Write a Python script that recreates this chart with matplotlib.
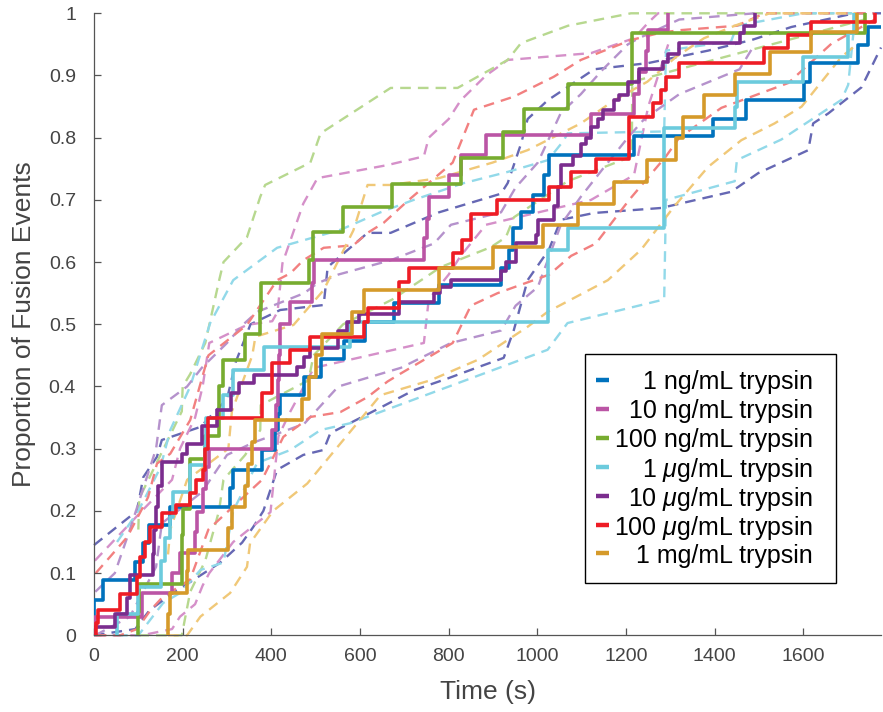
import matplotlib
matplotlib.use('Agg')
import matplotlib.pyplot as plt
from matplotlib.lines import Line2D
from matplotlib.patches import Rectangle

plt.rcParams['font.family'] = ['Liberation Sans', 'DejaVu Sans']
plt.rcParams['mathtext.fontset'] = 'custom'
plt.rcParams['mathtext.it'] = 'Liberation Sans:italic'
plt.rcParams['mathtext.rm'] = 'Liberation Sans'

labels = ['1 ng/mL trypsin', '10 ng/mL trypsin', '100 ng/mL trypsin',
          r'1 $\mu$g/mL trypsin', r'10 $\mu$g/mL trypsin',
          r'100 $\mu$g/mL trypsin', '1 mg/mL trypsin']
colors = ['#0072BD', '#BB55A5', '#77AC30', '#6CCBDD', '#7B2D8E', '#EE1C25', '#D59A2A']
bound_colors = ['#6668B4', '#D590C9', '#B7D88F', '#92D9E9', '#B592CC', '#F28080', '#F0C878']

# 1 ng/mL
t1 = [0, 20, 93, 111, 125, 172, 307, 314, 379, 409, 414, 420, 473, 511, 563, 612, 676, 778,
      918, 935, 945, 963, 990, 1015, 1026, 1218, 1397, 1471, 1601, 1614, 1724, 1746]
f1 = [0.057, 0.089, 0.118, 0.148, 0.177, 0.206, 0.237, 0.266, 0.298, 0.330, 0.355, 0.386,
      0.415, 0.445, 0.473, 0.503, 0.534, 0.563, 0.590, 0.620, 0.655, 0.680, 0.708, 0.740,
      0.772, 0.802, 0.830, 0.861, 0.890, 0.920, 0.949, 0.978]
hi1_t = [0, 97, 111, 142, 153, 240, 300, 320, 353, 420, 518, 527, 617, 669, 778, 918, 933, 963,
         978, 1023, 1128, 1250, 1385, 1483, 1573, 1715, 1775]
hi1_y = [0.145, 0.200, 0.254, 0.287, 0.314, 0.335, 0.380, 0.440, 0.500, 0.523, 0.531, 0.592,
         0.647, 0.647, 0.680, 0.710, 0.727, 0.790, 0.830, 0.860, 0.910, 0.920, 0.940, 0.957,
         0.978, 1.0, 1.0]
lo1_t = [0, 93, 125, 172, 285, 334, 359, 382, 413, 472, 518, 533, 646, 721, 798, 866, 924, 947,
         978, 1026, 1053, 1128, 1279, 1437, 1498, 1611, 1622, 1656, 1731, 1775]
lo1_y = [0.0, 0.010, 0.040, 0.065, 0.117, 0.149, 0.174, 0.200, 0.266, 0.290, 0.298, 0.325,
         0.366, 0.394, 0.413, 0.431, 0.446, 0.491, 0.571, 0.620, 0.668, 0.679, 0.687, 0.713,
         0.743, 0.780, 0.823, 0.839, 0.881, 0.945]

# 10 ng/mL
t2 = [2, 108, 176, 194, 228, 232, 245, 252, 260, 402, 410, 414, 417, 420, 443, 492, 496, 744,
      750, 755, 800, 827, 884, 1121, 1218, 1230, 1245, 1250, 1295]
f2 = [0.030, 0.068, 0.100, 0.133, 0.166, 0.198, 0.236, 0.270, 0.300, 0.330, 0.370, 0.410,
      0.450, 0.500, 0.536, 0.567, 0.603, 0.638, 0.670, 0.705, 0.740, 0.772, 0.805, 0.838,
      0.870, 0.905, 0.940, 0.973, 1.0]
hi2_t = [2, 108, 176, 194, 228, 245, 260, 345, 402, 414, 425, 472, 504, 662, 744, 755, 800, 827,
         884, 933, 1121, 1218, 1250, 1272, 1295]
hi2_y = [0.12, 0.20, 0.25, 0.30, 0.35, 0.40, 0.47, 0.499, 0.505, 0.52, 0.598, 0.694, 0.735,
         0.756, 0.77, 0.80, 0.83, 0.86, 0.90, 0.925, 0.936, 0.96, 0.985, 1.0, 1.0]
lo2_t = [2, 108, 176, 194, 228, 245, 260, 314, 398, 416, 443, 496, 744, 755, 800, 827, 884,
         1121, 1218, 1250, 1295]
lo2_y = [0.0, 0.0, 0.01, 0.03, 0.05, 0.08, 0.10, 0.15, 0.198, 0.32, 0.36, 0.43, 0.47, 0.54,
         0.58, 0.61, 0.66, 0.70, 0.74, 0.85, 0.95]

# 100 ng/mL
t3 = [100, 102, 198, 199, 200, 217, 251, 281, 282, 292, 341, 375, 376, 484, 495, 562, 673, 827,
      922, 970, 1068, 1213, 1214, 1738]
f3 = [0.037, 0.082, 0.122, 0.162, 0.203, 0.283, 0.320, 0.360, 0.400, 0.443, 0.484, 0.523,
      0.567, 0.604, 0.648, 0.688, 0.725, 0.768, 0.809, 0.846, 0.886, 0.930, 0.969, 1.0]
hi3_t = [100, 102, 198, 200, 217, 251, 282, 292, 345, 375, 386, 488, 511, 669, 820, 933, 963,
         1069, 1211, 1738]
hi3_y = [0.17, 0.22, 0.36, 0.40, 0.42, 0.47, 0.57, 0.60, 0.64, 0.705, 0.724, 0.76, 0.807, 0.88,
         0.88, 0.925, 0.952, 0.98, 1.0, 1.0]
lo3_t = [100, 198, 217, 251, 282, 292, 341, 375, 376, 484, 495, 562, 673, 782, 895, 929, 947,
         1068, 1213, 1214, 1738]
lo3_y = [0.0, 0.0, 0.07, 0.12, 0.20, 0.25, 0.29, 0.33, 0.37, 0.41, 0.45, 0.50, 0.54, 0.592,
         0.624, 0.64, 0.672, 0.73, 0.77, 0.89, 0.99]

# 1 ug/mL
t4 = [52, 100, 150, 160, 172, 178, 217, 250, 253, 292, 314, 383, 578, 1023, 1068, 1286, 1445,
      1450, 1600, 1701, 1713]
f4 = [0.035, 0.078, 0.120, 0.157, 0.190, 0.230, 0.274, 0.310, 0.350, 0.386, 0.426, 0.463,
      0.503, 0.620, 0.655, 0.815, 0.850, 0.890, 0.930, 0.968, 1.0]
hi4_t = [52, 100, 150, 172, 217, 262, 314, 413, 556, 646, 721, 834, 933, 1024, 1060, 1068, 1286,
         1290, 1437, 1450, 1600, 1713]
hi4_y = [0.15, 0.20, 0.27, 0.33, 0.40, 0.502, 0.571, 0.623, 0.652, 0.68, 0.70, 0.727, 0.745,
         0.764, 0.796, 0.807, 0.81, 0.94, 0.955, 0.98, 1.0, 1.0]
lo4_t = [52, 100, 156, 194, 240, 292, 314, 368, 443, 511, 578, 1023, 1068, 1286, 1290, 1445,
         1450, 1550, 1686, 1701, 1713]
lo4_y = [0.0, 0.0, 0.052, 0.068, 0.105, 0.117, 0.20, 0.277, 0.298, 0.33, 0.341, 0.459, 0.502,
         0.54, 0.70, 0.73, 0.764, 0.797, 0.861, 0.885, 0.97]

# 10 ug/mL
t5 = [3, 47, 75, 81, 134, 136, 140, 145, 153, 198, 210, 243, 278, 308, 326, 360, 458, 474, 488,
      551, 571, 597, 688, 767, 780, 805, 918, 929, 951, 997, 1001, 1038, 1046, 1053, 1080, 1098,
      1110, 1121, 1136, 1148, 1173, 1185, 1204, 1229, 1283, 1294, 1320, 1456, 1467, 1490]
f5 = [0.013, 0.035, 0.060, 0.097, 0.130, 0.170, 0.206, 0.240, 0.278, 0.292, 0.308, 0.337,
      0.362, 0.390, 0.405, 0.418, 0.432, 0.447, 0.462, 0.490, 0.503, 0.517, 0.536, 0.550,
      0.560, 0.571, 0.585, 0.600, 0.630, 0.643, 0.668, 0.690, 0.720, 0.756, 0.770, 0.790,
      0.800, 0.817, 0.830, 0.845, 0.860, 0.868, 0.890, 0.910, 0.922, 0.935, 0.952, 0.968,
      0.980, 1.0]
hi5_t = [3, 47, 81, 140, 153, 210, 243, 300, 337, 368, 474, 504, 551, 669, 767, 805, 918, 951,
         1001, 1053, 1098, 1148, 1204, 1229, 1320, 1490]
hi5_y = [0.07, 0.10, 0.17, 0.30, 0.37, 0.40, 0.43, 0.47, 0.50, 0.52, 0.55, 0.566, 0.58, 0.603,
         0.63, 0.66, 0.68, 0.72, 0.76, 0.84, 0.87, 0.91, 0.95, 0.96, 0.99, 1.0]
lo5_t = [3, 81, 140, 153, 243, 300, 360, 474, 551, 692, 805, 918, 951, 1001, 1053, 1098, 1151,
         1204, 1241, 1320, 1456, 1490]
lo5_y = [0.0, 0.03, 0.11, 0.18, 0.23, 0.29, 0.31, 0.34, 0.40, 0.43, 0.47, 0.49, 0.53, 0.56,
         0.66, 0.705, 0.753, 0.80, 0.83, 0.87, 0.91, 0.95]

# 100 ug/mL
t6 = [4, 8, 59, 97, 104, 115, 127, 153, 185, 217, 230, 246, 250, 258, 379, 402, 443, 488, 609,
      617, 687, 710, 809, 831, 850, 910, 1027, 1076, 1132, 1207, 1261, 1279, 1290, 1320, 1512,
      1566, 1618, 1761]
f6 = [0.020, 0.040, 0.066, 0.094, 0.126, 0.150, 0.174, 0.196, 0.210, 0.228, 0.250, 0.266,
      0.300, 0.350, 0.390, 0.437, 0.458, 0.480, 0.503, 0.526, 0.568, 0.590, 0.614, 0.635,
      0.678, 0.700, 0.720, 0.745, 0.766, 0.833, 0.855, 0.877, 0.898, 0.920, 0.944, 0.965,
      0.986, 1.0]
hi6_t = [4, 36, 75, 122, 142, 172, 217, 258, 345, 413, 443, 472, 518, 585, 617, 653, 710, 809,
         857, 947, 1037, 1098, 1211, 1279, 1324, 1450, 1512, 1761]
hi6_y = [0.10, 0.126, 0.158, 0.222, 0.276, 0.292, 0.346, 0.45, 0.499, 0.571, 0.582, 0.603,
         0.623, 0.627, 0.647, 0.663, 0.70, 0.76, 0.845, 0.866, 0.898, 0.925, 0.957, 0.969,
         0.973, 0.98, 1.0, 1.0]
lo6_t = [4, 59, 97, 127, 153, 217, 258, 379, 427, 488, 556, 617, 662, 692, 809, 850, 910, 1027,
         1076, 1132, 1207, 1290, 1320, 1415, 1566, 1663, 1761]
lo6_y = [0.0, 0.0, 0.01, 0.04, 0.06, 0.09, 0.17, 0.25, 0.319, 0.351, 0.359, 0.383, 0.408, 0.421,
         0.47, 0.53, 0.55, 0.58, 0.61, 0.63, 0.70, 0.77, 0.80, 0.848, 0.888, 0.951, 0.99]

# 1 mg/mL
t7 = [167, 172, 210, 212, 303, 311, 341, 348, 357, 364, 470, 484, 500, 515, 582, 609, 778, 899,
      1012, 1092, 1173, 1248, 1313, 1328, 1376, 1445, 1524, 1618, 1720]
f7 = [0.035, 0.068, 0.103, 0.137, 0.172, 0.206, 0.240, 0.275, 0.310, 0.346, 0.380, 0.415,
      0.450, 0.485, 0.520, 0.555, 0.590, 0.625, 0.660, 0.694, 0.729, 0.764, 0.800, 0.834,
      0.868, 0.903, 0.938, 0.970, 1.0]
hi7_t = [167, 172, 210, 303, 311, 357, 364, 450, 518, 585, 617, 669, 778, 899, 978, 1098, 1173,
         1248, 1313, 1376, 1445, 1524, 1720]
hi7_y = [0.13, 0.17, 0.25, 0.30, 0.36, 0.45, 0.48, 0.499, 0.555, 0.651, 0.724, 0.724, 0.735,
         0.76, 0.78, 0.823, 0.86, 0.89, 0.93, 0.96, 0.98, 1.0, 1.0]
lo7_t = [167, 210, 240, 307, 345, 352, 404, 481, 646, 759, 866, 978, 1023, 1159, 1234, 1308,
         1385, 1460, 1535, 1596, 1686, 1720]
lo7_y = [0.0, 0.0, 0.03, 0.068, 0.11, 0.148, 0.20, 0.244, 0.386, 0.41, 0.443, 0.496, 0.52,
         0.571, 0.62, 0.689, 0.753, 0.796, 0.823, 0.85, 0.93, 0.95]

steps = [(t1, f1), (t2, f2), (t3, f3), (t4, f4), (t5, f5), (t6, f6), (t7, f7)]
bounds = [(hi1_t, hi1_y, lo1_t, lo1_y), (hi2_t, hi2_y, lo2_t, lo2_y),
          (hi3_t, hi3_y, lo3_t, lo3_y), (hi4_t, hi4_y, lo4_t, lo4_y),
          (hi5_t, hi5_y, lo5_t, lo5_y), (hi6_t, hi6_y, lo6_t, lo6_y),
          (hi7_t, hi7_y, lo7_t, lo7_y)]

XMAX = 1775
W, H = 883.0, 712.0
axcol = '#555555'
txtcol = '#444444'

fig = plt.figure(figsize=(W / 100, H / 100), dpi=100)
ax = fig.add_axes([94 / W, (H - 635.3) / H, 787 / W, 622 / H])

# confidence bounds first, underneath
for (ht, hy, lt, ly), c in zip(bounds, bound_colors):
    ax.plot(ht, hy, color=c, lw=1.7, dashes=(4.5, 3), clip_on=False, zorder=1)
    ax.plot(lt, ly, color=c, lw=1.7, dashes=(4.5, 3), clip_on=False, zorder=1)

# empirical cdfs as stairs
for (t, f), c in zip(steps, colors):
    x = [t[0]] + list(t)
    y = [0.0] + list(f)
    if f[-1] < 1.0:
        x.append(XMAX)
        y.append(f[-1])
    ax.step(x, y, where='post', color=c, lw=2.6, zorder=3)

ax.set_xlim(0, XMAX)
ax.set_ylim(0, 1)
ax.set_xticks(range(0, 1601, 200))
ax.set_yticks([i / 10 for i in range(11)])
ax.set_yticklabels(['0'] + ['%.1f' % (i / 10) for i in range(1, 10)] + ['1'])

for side in ['top', 'right']:
    ax.spines[side].set_visible(False)
for side in ['left', 'bottom']:
    ax.spines[side].set_color(axcol)
    ax.spines[side].set_linewidth(0.9)
ax.tick_params(direction='in', length=5, width=0.9, color=axcol, labelcolor=txtcol,
               labelsize=14)
ax.tick_params(axis='x', pad=9)
ax.tick_params(axis='y', pad=13)

ax.set_xlabel('Time (s)', fontsize=19, color=txtcol, labelpad=11)
ax.set_ylabel('Proportion of Fusion Events', fontsize=19, color=txtcol, labelpad=9)

# legend drawn by hand so the labels can be right-aligned like the original
box_l, box_r, box_t, box_b = 585, 836, 354, 583
fig.patches.append(Rectangle((box_l / W, 1 - box_b / H), (box_r - box_l) / W,
                             (box_b - box_t) / H, transform=fig.transFigure,
                             facecolor='white', edgecolor='black', lw=1.0, zorder=5))
row0, drow = 380, 28.9
for i, (lab, c) in enumerate(zip(labels, colors)):
    yy = 1 - (row0 + i * drow) / H
    fig.lines.append(Line2D([596 / W, 609 / W], [yy, yy], transform=fig.transFigure,
                            color=c, lw=3.2, solid_capstyle='butt', zorder=6))
    fig.text(813 / W, yy, lab, ha='right', va='center_baseline', fontsize=18,
             color='black', zorder=6)

plt.savefig('out.png', dpi=100)
